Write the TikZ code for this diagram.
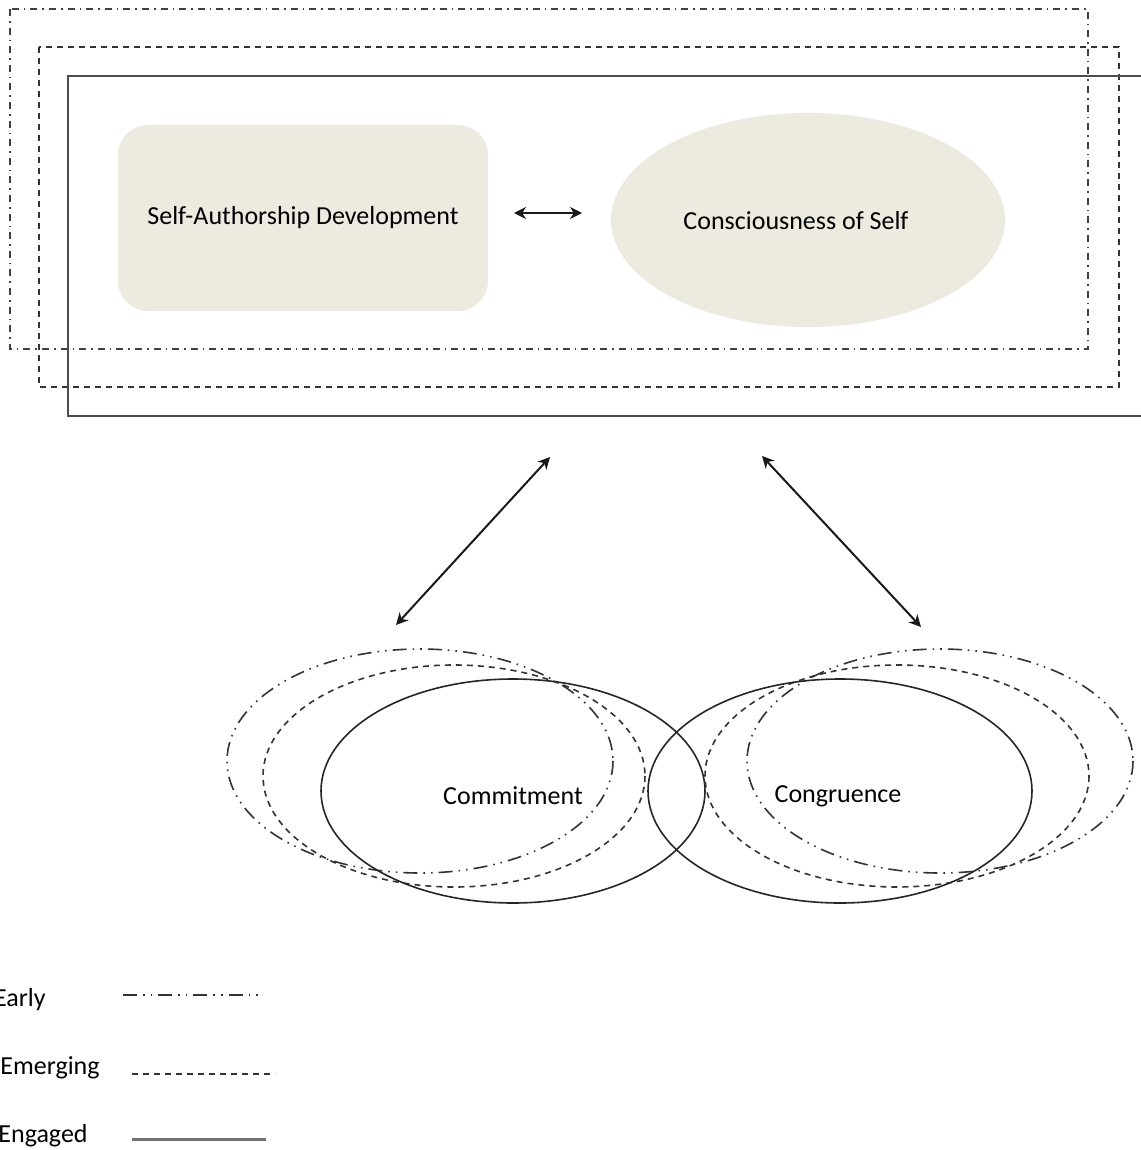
\documentclass[tikz,border=0pt]{standalone}
\usepackage{fontspec}
\setmainfont{Carlito}
\usetikzlibrary{arrows.meta,shapes.geometric}

\begin{document}
\begin{tikzpicture}[x=0.5pt,y=-0.5pt,>={Stealth[length=6pt,width=6pt]},
		font=\fontsize{13}{15}\selectfont,
		earlybox/.style={draw=black!75,line width=0.75pt,dash pattern=on 3.5pt off 2.5pt on 0.8pt off 2.5pt},
		early/.style={draw=black!80,line width=0.8pt,dash pattern=on 7pt off 3pt on 0.8pt off 3pt on 0.8pt off 3pt},
		emerging/.style={draw=black!80,line width=0.8pt,dash pattern=on 3pt off 2.5pt},
		engaged/.style={draw=black!70,line width=1pt},
		beige/.style={fill=beigefill,draw=none,inner sep=0pt,outer sep=0pt},
		ring/.style={ellipse,draw=black!85,line width=0.8pt,inner sep=0pt,minimum width=192pt,minimum height=112pt},
		link/.style={<->,line width=1pt,black!90}]
		\definecolor{beigefill}{RGB}{237,234,224}
		\useasboundingbox (0,0) rectangle (1140,1150);
		
		% Rahmen
		\draw[earlybox] (10,9) rectangle (1088,349);
		\draw[emerging] (39,47) rectangle (1119,387);
		\draw[engaged] (68,76) rectangle (1150,416);
		
		% Felder oben
		\node[beige,rounded corners=15pt,minimum width=185pt,minimum height=93pt] (sad) at (303,218) {Self-Authorship Development};
		\node[beige,ellipse,minimum width=197pt,minimum height=107pt] (cos) at (808,220) {};
		\node (coslabel) at (796,221) {Consciousness of Self};
		\coordinate (hl) at (514,213);
		\coordinate (hr) at (582,213);
		\draw[link] (hl) -- (hr);
		
		% Pfeile
		\coordinate (lt) at (550,457);
		\coordinate (lb) at (396,625);
		\coordinate (rt) at (762,456);
		\coordinate (rb) at (921,627);
		\draw[link] (lt) -- (lb);
		\draw[link] (rt) -- (rb);
		
		% Ellipsen
		\draw[early] (420,761) ellipse [x radius=193, y radius=112];
		\draw[emerging] (454,776) ellipse [x radius=191, y radius=111];
		\node[ring] (commit) at (513,791) {};
		\node (commitlabel) at (513,796) {Commitment};
		\draw[early] (940,761) ellipse [x radius=193, y radius=112];
		\draw[emerging] (897,776) ellipse [x radius=192, y radius=111];
		\node[ring] (congr) at (840,791) {};
		\node (congrlabel) at (838,796) {Congruence};
		
		% Legende
		\node[anchor=east,inner sep=0pt] (learly) at (46,1000) {Early};
		\node[anchor=east,inner sep=0pt] (lemerg) at (100,1068) {Emerging};
		\node[anchor=east,inner sep=0pt] (lengag) at (88,1136) {Engaged};
		\draw[early,line width=1pt] (123,995) -- (262,995);
		\draw[emerging] (132,1074) -- (275,1074);
		\draw[engaged,draw=black!55,line width=1.5pt] (132,1139) -- (266,1139);
	\end{tikzpicture}
\end{document}
